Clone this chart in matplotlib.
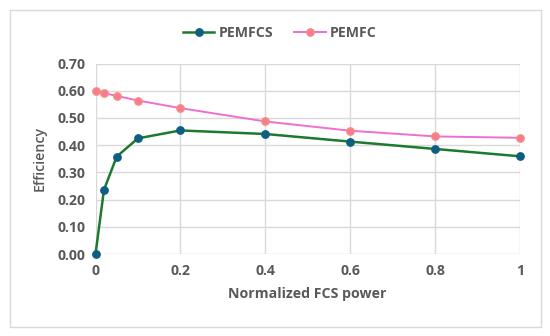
import matplotlib.pyplot as plt
from matplotlib.patches import Rectangle

x = [0, 0.02, 0.05, 0.1, 0.2, 0.4, 0.6, 0.8, 1]
pemfcs = [0.00, 0.236, 0.358, 0.425, 0.454, 0.441, 0.413, 0.386, 0.359]
pemfc = [0.599, 0.591, 0.581, 0.564, 0.536, 0.487, 0.453, 0.432, 0.427]
xticks = [0, 0.2, 0.4, 0.6, 0.8, 1]
xtick_labels = ['0', '0.2', '0.4', '0.6', '0.8', '1']
yticks = [0.0, 0.1, 0.2, 0.3, 0.4, 0.5, 0.6, 0.7]

plt.rcParams['font.family'] = ['Open Sans', 'DejaVu Sans']
txt = '#595959'
fs = 10.2

fig = plt.figure(figsize=(5.5, 3.36), dpi=100)
fig.patches.append(Rectangle((10 / 550, 1 - 327 / 336), 531 / 550, 317 / 336,
                             transform=fig.transFigure, fill=False,
                             edgecolor='#d9d9d9', linewidth=1))
ax = fig.add_axes([95.5 / 550, 1 - 254 / 336, 424.5 / 550, 190.5 / 336])

ax.plot(x, pemfcs, marker='o', color='#1b7a2e', linewidth=1.8,
        markersize=5.3, markerfacecolor='#0d5e80', markeredgecolor='#0d5e80',
        label='PEMFCS', clip_on=False, zorder=3)
ax.plot(x, pemfc, marker='o', color='#ee6fd0', linewidth=1.4,
        markersize=5.3, markerfacecolor='#f7799f', markeredgecolor='#f79070',
        label='PEMFC', clip_on=False, zorder=3)

ax.set_xlim(0, 1)
ax.set_ylim(0, 0.7)
ax.set_xticks(xticks)
ax.set_xticklabels(xtick_labels)
ax.set_yticks(yticks)
ax.set_yticklabels(['%.2f' % v for v in yticks])
ax.grid(True, color='#d9d9d9', linewidth=1)
ax.set_axisbelow(True)
for s in ax.spines.values():
    s.set_visible(False)
ax.tick_params(length=0, labelsize=fs, labelcolor=txt, pad=7)
for lab in ax.get_xticklabels() + ax.get_yticklabels():
    lab.set_fontweight('bold')

ax.set_xlabel('Normalized FCS power', fontsize=fs, color=txt,
              fontweight='bold', labelpad=7)
ax.set_ylabel('Efficiency', fontsize=fs, color=txt, fontweight='semibold',
              labelpad=8)

fig.legend(loc='center', bbox_to_anchor=(280 / 550, 1 - 33 / 336), ncol=2,
           frameon=False, labelcolor=txt, handlelength=2.2,
           columnspacing=1.5, handletextpad=0.3,
           prop={'weight': 'bold', 'size': fs})

fig.savefig('out.png', dpi=100)
